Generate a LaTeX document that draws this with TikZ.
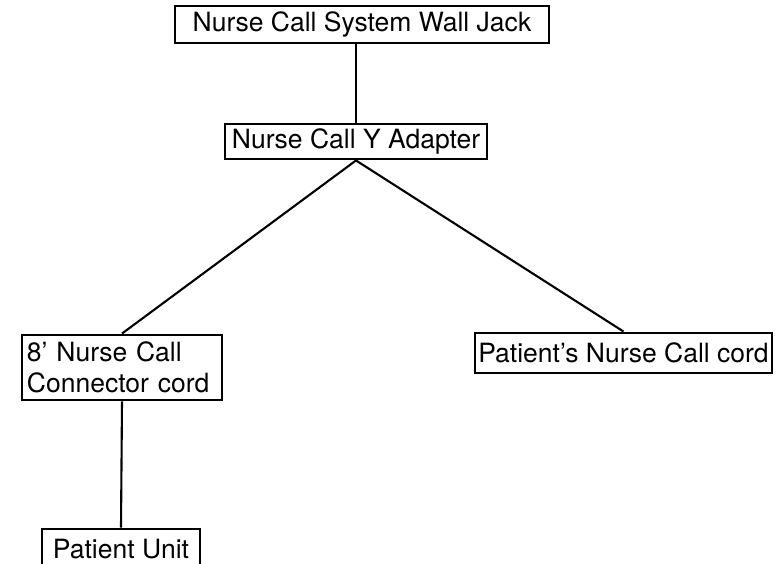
\documentclass[tikz,border=0pt]{standalone}
\usepackage{fontspec}
\setmainfont{TeX Gyre Heros}
\begin{document}
\begin{tikzpicture}[x=1pt,y=-1pt,
  box/.style={draw,line width=2.9pt,inner sep=0pt,font=\fontsize{26.5}{31}\selectfont},
  link/.style={line width=2.1pt}]
\clip (0,0) rectangle (781,563);
\fill[white] (0,0) rectangle (781,563);
\node[box,minimum width=374pt,minimum height=37pt] (jack) at (362,24.5) {Nurse Call System Wall Jack};
\node[box,minimum width=262pt,minimum height=35pt] (yad) at (356,141.5) {Nurse Call Y Adapter};
\node[box,minimum width=200pt,minimum height=65pt,text width=190pt,align=left] (cord) at (122,367.5) {8' Nurse Call\\Connector cord};
\node[box,minimum width=297pt,minimum height=40pt] (pcord) at (623.5,353) {Patient’s Nurse Call cord};
\node[box,minimum width=158pt,minimum height=40pt] (unit) at (121,549) {Patient Unit};
\draw[link] (yad.north) -- (yad.north |- jack.south);
\draw[link] (yad.south) -- (cord.north);
\draw[link] (yad.south) -- (pcord.north);
\draw[link] (cord.south) -- (unit.north);
\end{tikzpicture}
\end{document}
